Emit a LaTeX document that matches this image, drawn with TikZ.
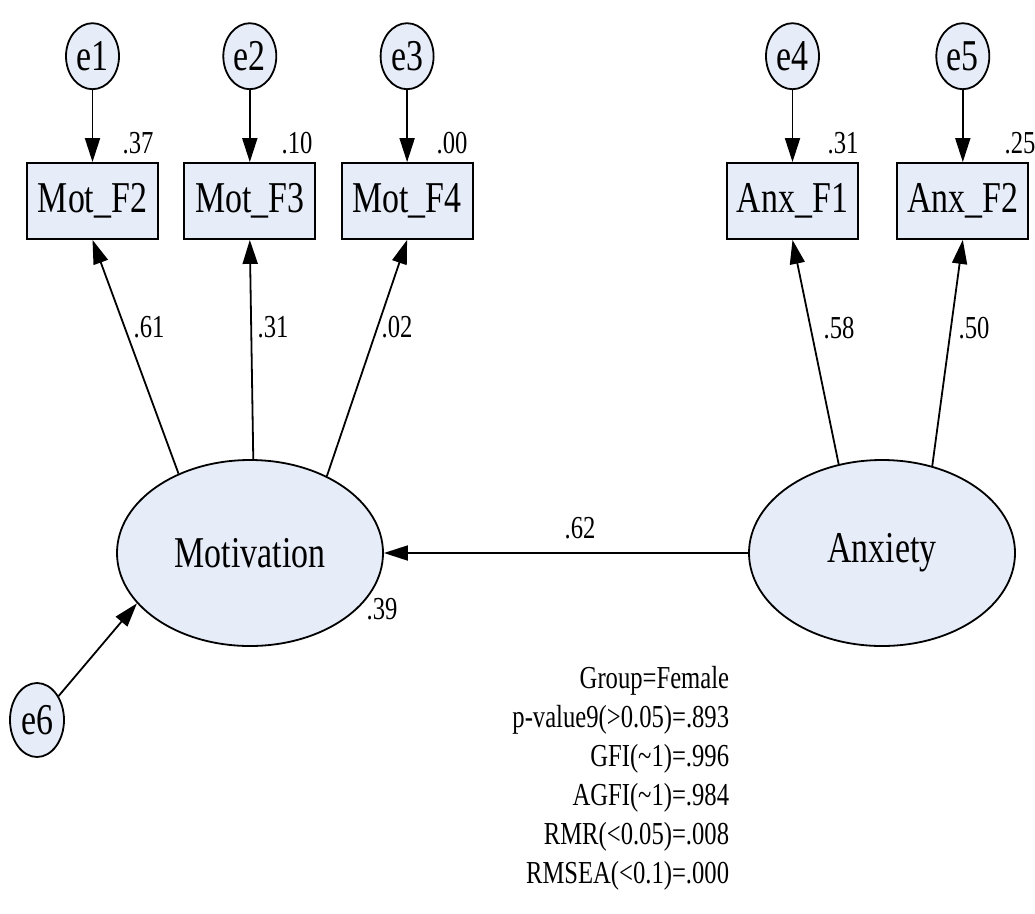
\documentclass[tikz,border=0pt]{standalone}
\usepackage{fontspec}
\setmainfont{Liberation Serif}[FakeStretch=0.77]
\usetikzlibrary{shapes.geometric, positioning, arrows.meta}
\definecolor{semfill}{RGB}{230,236,248}

\begin{document}
\begin{tikzpicture}[x=1pt, y=-1pt, line width=1.8pt,
    latent/.style={ellipse, draw, fill=semfill, minimum width=266pt, minimum height=186pt, inner sep=0pt, font=\fontsize{44}{50}\selectfont},
    obs/.style={rectangle, draw, fill=semfill, minimum width=131pt, minimum height=76pt, inner sep=0pt, font=\fontsize{44}{50}\selectfont},
    err/.style={ellipse, draw, fill=semfill, minimum width=53pt, minimum height=66pt, inner sep=0pt, font=\fontsize{44}{50}\selectfont},
    coef/.style={inner sep=0pt, font=\fontsize{32}{39}\selectfont},
    reg/.style={-{Triangle[length=24pt, width=15pt]}}]
        \useasboundingbox (0,0) rectangle (1035,913);

        \node [obs] (mf2) at (92.5,201) {Mot\_F2};
        \node [obs, right=24.5pt of mf2] (mf3) {Mot\_F3};
        \node [obs, right=24.5pt of mf3] (mf4) {Mot\_F4};
        \node [obs] (af1) at (792.5,201) {Anx\_F1};
        \node [obs, right=37.5pt of af1] (af2) {Anx\_F2};

        \node [err, above=72pt of mf2] (e1) {e1};
        \node [err, above=72pt of mf3] (e2) {e2};
        \node [err, above=72pt of mf4] (e3) {e3};
        \node [err, above=72pt of af1] (e4) {e4};
        \node [err, above=72pt of af2] (e5) {e5};

        \node [latent] (mot) at (250,553) {Motivation};
        \node [latent] (anx) at (882,553) {Anxiety};
        \node [err, minimum height=74pt, minimum width=54pt] (e6) at (37,720) {e6};

        \draw[reg] (e1) -- (mf2);
        \draw[reg] (e2) -- (mf3);
        \draw[reg] (e3) -- (mf4);
        \draw[reg] (e4) -- (af1);
        \draw[reg] (e5) -- (af2);

        \draw[reg] (mot.132) -- (mf2.south);
        \draw[reg] (mot.88) -- (mf3.south);
        \draw[reg] (mot.45) -- (mf4.south);
        \draw[reg] (anx.116) -- (af1.south);
        \draw[reg] (anx.60) -- (af2.south);
        \draw[reg] (anx.west) -- (mot.east);
        \draw[reg] (e6.48) -- (mot.204);

        % squared multiple correlations
        \node [coef] (r1) at (138,143) {.37};
        \node [coef] (r2) at (297,143) {.10};
        \node [coef] (r3) at (452,143) {.00};
        \node [coef] (r4) at (843,143) {.31};
        \node [coef] (r5) at (1020,143) {.25};
        \node [coef] (r6) at (382,609) {.39};

        % loadings and path
        \node [coef] (l1) at (149,327) {.61};
        \node [coef] (l2) at (273,327) {.31};
        \node [coef] (l3) at (397,327) {.02};
        \node [coef] (l4) at (839,328) {.58};
        \node [coef] (l5) at (974,328) {.50};
        \node [coef] (b1) at (580,528) {.62};

        \node [coef, align=right, anchor=north east] (fit) at (730,665)
            {Group=Female\\ p-value9(>0.05)=.893\\ GFI(\textasciitilde1)=.996\\ AGFI(\textasciitilde1)=.984\\ RMR(<0.05)=.008\\ RMSEA(<0.1)=.000};
    \end{tikzpicture}
\end{document}
